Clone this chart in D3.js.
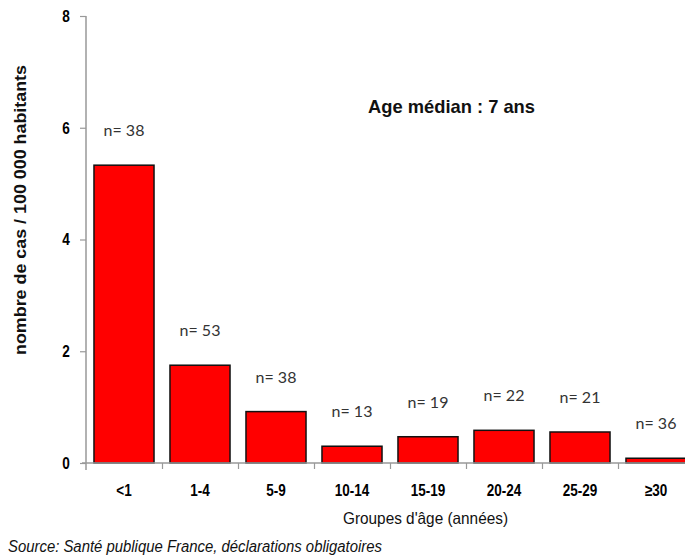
<!DOCTYPE html>
<html><head><meta charset="utf-8">
<script src="https://cdn.jsdelivr.net/npm/d3@7"></script>
<style>
body{margin:0;background:#fff;}
svg{display:block;}
</style></head>
<body>
<svg id="c" width="685" height="558"></svg>
<script>
const categories = ["<1","1-4","5-9","10-14","15-19","20-24","25-29","≥30"];
const rates = [5.33, 1.75, 0.92, 0.30, 0.47, 0.585, 0.555, 0.085];
const counts = [38, 53, 38, 13, 19, 22, 21, 36];
const yTicks = [0, 2, 4, 6, 8];

const sans = "'Liberation Sans',Arial,sans-serif";
const svg = d3.select("#c");
const x0 = 86, step = 76;
const x = d3.scaleBand().domain(categories).range([x0, x0 + step*categories.length]).paddingInner(0.21).paddingOuter(0.105);
const xi = d3.scaleLinear().domain([0, categories.length]).range([x0, x0 + step*categories.length]);
const y = d3.scaleLinear().domain([0, 8]).range([463, 16]);

// bars
svg.append("g").selectAll("rect").data(rates).join("rect")
  .attr("x", (d,i)=>x(categories[i]))
  .attr("y", d=>y(d))
  .attr("width", x.bandwidth())
  .attr("height", d=>y(0)-y(d))
  .attr("fill", "#ff0000")
  .attr("stroke", "#111")
  .attr("stroke-width", 1.5);

// y axis
const ya = svg.append("g").attr("transform", `translate(${x0},0)`)
  .call(d3.axisLeft(y).tickValues(yTicks).tickSize(6).tickPadding(0).tickSizeOuter(0));
ya.select(".domain").attr("stroke", "#999").attr("stroke-width", 1.5).attr("d", `M0,${y(8)}V${y(0)+7}`);
ya.selectAll(".tick line").attr("stroke", "#999").attr("stroke-width", 1.2);
ya.selectAll(".tick text").attr("font-family", sans).attr("font-weight", "bold").attr("font-size", 17)
  .attr("fill", "#000").attr("text-anchor", "middle").attr("x", 0)
  .attr("transform", "translate(-20,0) scale(0.8,1)");

// x axis line & boundary ticks
const xa = svg.append("g").attr("transform", `translate(0,${y(0)})`)
  .call(d3.axisBottom(xi).tickValues(d3.range(1, categories.length+1)).tickFormat("").tickSize(6).tickSizeOuter(0));
xa.select(".domain").attr("stroke", "#999").attr("stroke-width", 1.5).attr("d", `M${x0-4},0H${x0+step*categories.length}`);
xa.selectAll(".tick line").attr("stroke", "#999").attr("stroke-width", 1.2);

// category labels
const xl = svg.append("g").attr("transform", `translate(0,${y(0)})`)
  .call(d3.axisBottom(x).tickSize(0).tickPadding(21));
xl.select(".domain").remove();
xl.selectAll(".tick text").attr("font-family", sans).attr("font-weight", "bold").attr("font-size", 16.5)
  .attr("fill", "#000").attr("transform", "scale(0.82,1)");

// n labels
svg.append("g").selectAll("text").data(counts).join("text")
  .attr("x", (d,i)=>x(categories[i]) + x.bandwidth()/2)
  .attr("y", (d,i)=>y(rates[i]) - 29)
  .attr("text-anchor", "middle")
  .attr("font-family", "Lato,'Open Sans',sans-serif")
  .attr("font-size", 16)
  .attr("fill", "#333")
  .text(d=>"n= " + d);

// annotations
svg.append("text").attr("x", 368).attr("y", 113)
  .attr("font-family", sans).attr("font-weight", "bold").attr("font-size", 18.5).attr("fill", "#111")
  .attr("textLength", 167).attr("lengthAdjust", "spacingAndGlyphs")
  .text("Age médian : 7 ans");

svg.append("text").attr("transform", "translate(26,355) rotate(-90)")
  .attr("font-family", sans).attr("font-weight", "bold").attr("font-size", 16.5).attr("fill", "#111")
  .attr("textLength", 290).attr("lengthAdjust", "spacingAndGlyphs")
  .text("nombre de cas / 100 000 habitants");

svg.append("text").attr("x", 343).attr("y", 524)
  .attr("font-family", sans).attr("font-size", 16.5).attr("fill", "#111")
  .attr("textLength", 165).attr("lengthAdjust", "spacingAndGlyphs")
  .text("Groupes d'âge (années)");

svg.append("text").attr("x", 8).attr("y", 552)
  .attr("font-family", sans).attr("font-style", "italic").attr("font-size", 16).attr("fill", "#111")
  .attr("textLength", 374).attr("lengthAdjust", "spacingAndGlyphs")
  .text("Source: Santé publique France, déclarations obligatoires");
</script>
</body></html>
